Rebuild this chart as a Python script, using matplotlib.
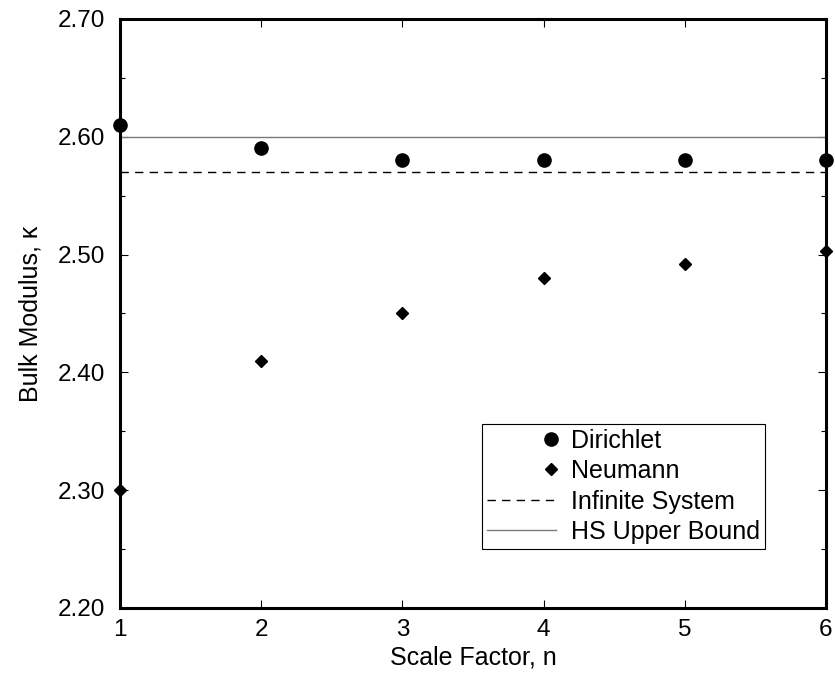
import numpy as np
import matplotlib.pyplot as plt
from matplotlib.legend_handler import HandlerLine2D

plt.rcParams['font.family'] = ['Liberation Sans', 'DejaVu Sans']

# data
scale_factor = [1, 2, 3, 4, 5, 6]
dirichlet = [2.61, 2.59, 2.58, 2.58, 2.58, 2.58]
neumann = [2.30, 2.41, 2.45, 2.48, 2.492, 2.503]
infinite_system = 2.57
hs_upper_bound = 2.60


# legend handler that moves the single marker to the right end of the handle
class RightMarkerHandler(HandlerLine2D):
    def create_artists(self, *args, **kwargs):
        artists = super().create_artists(*args, **kwargs)
        for a in artists:
            x = np.asarray(a.get_xdata(), dtype=float)
            a.set_xdata(np.full_like(x, x[0] + 0.93 * (x[-1] - x[0])))
        return artists


fig = plt.figure(figsize=(8.35, 6.74), dpi=100)
ax = fig.add_axes([0.1437, 0.098, 0.8455, 0.874])

ax.plot(scale_factor, dirichlet, 'o', color='black', markersize=9.5,
        clip_on=False, zorder=5, label='Dirichlet')
ax.plot(scale_factor, neumann, 'D', color='black', markersize=6.5,
        clip_on=False, zorder=5, label='Neumann')
ax.plot([scale_factor[0], scale_factor[-1]], [infinite_system] * 2,
        color='black', linewidth=1.0, dashes=(6, 4.5), label='Infinite System')
ax.plot([scale_factor[0], scale_factor[-1]], [hs_upper_bound] * 2,
        color='#7a7a7a', linewidth=1.0, label='HS Upper Bound')

ax.set_xlim(1, 6)
ax.set_ylim(2.2, 2.7)
ax.set_xticks(scale_factor)
ax.set_yticks(np.arange(2.2, 2.71, 0.1))
ax.set_yticks(np.arange(2.25, 2.7, 0.1), minor=True)
ax.yaxis.set_major_formatter(plt.FormatStrFormatter('%.2f'))

for s in ax.spines.values():
    s.set_linewidth(2.2)
ax.tick_params(which='both', direction='in', top=True, right=True,
               labelsize=17.5, width=0.8)
ax.tick_params(which='major', length=6)
ax.tick_params(which='minor', length=3.5)
ax.tick_params(axis='y', pad=11)
ax.tick_params(axis='x', pad=8)

ax.set_xlabel('Scale Factor, n', fontsize=18, labelpad=3)
ax.set_ylabel('Bulk Modulus, κ', fontsize=18, labelpad=11)

leg = ax.legend(loc='lower right', bbox_to_anchor=(0.913, 0.1),
                fontsize=18, numpoints=1, handlelength=2.75, handletextpad=0.6,
                labelspacing=0.26, borderpad=0.2, borderaxespad=0.0,
                fancybox=False, framealpha=1, edgecolor='black',
                handler_map={ax.lines[0]: RightMarkerHandler(),
                             ax.lines[1]: RightMarkerHandler()})
leg.get_frame().set_linewidth(0.8)

fig.savefig('out.png', dpi=100)
